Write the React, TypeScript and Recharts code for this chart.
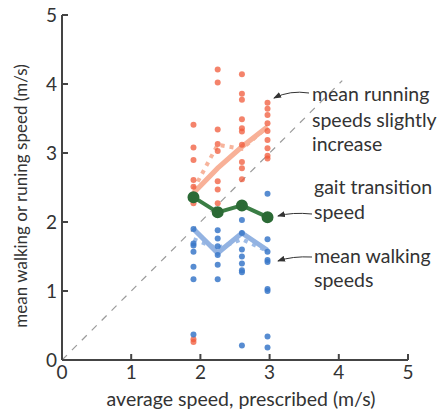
import React from 'react';
import {
  ComposedChart,
  Line,
  Scatter,
  XAxis,
  YAxis,
  ReferenceLine,
} from 'recharts';

// prescribed speeds (m/s)
const speeds = [1.9, 2.25, 2.6, 2.97];

// individual running speeds per prescribed speed
const runCol1 = [3.41, 3.08, 2.9, 2.61, 2.51, 2.27, 0.3, 0.26];
const runCol2 = [4.21, 4.02, 3.34, 3.13, 3.03, 2.59, 2.47, 2.27];
const runCol3 = [4.14, 3.86, 3.77, 3.49, 3.36, 3.31, 3.12, 2.87, 2.78, 2.62];
const runCol4 = [3.73, 3.64, 3.55, 3.43, 3.32, 3.19, 3.07, 2.96, 2.92];

// individual walking speeds per prescribed speed
const walkCol1 = [1.9, 1.69, 1.66, 1.57, 1.35, 1.17, 0.37];
const walkCol2 = [1.88, 1.76, 1.65, 1.52, 1.38, 1.17];
const walkCol3 = [2.03, 1.84, 1.6, 1.5, 1.4, 1.3, 1.27, 0.21];
const walkCol4 = [2.41, 1.75, 1.57, 1.45, 1.42, 1.03, 1.0, 0.34, 0.18];

// summary lines
const runMean = [2.42, 2.78, 3.09, 3.38];
const runAlt = [2.47, 3.12, 3.06, 3.38];
const walkMean = [1.9, 1.55, 1.84, 1.59];
const walkAlt = [1.75, 1.62, 1.75, 1.58];
const gaitTransition = [2.36, 2.14, 2.24, 2.07];

const axisTicks = [0, 1, 2, 3, 4, 5];
const diagonalEnd = 4.05;

const toPoints = (cols: number[][]) =>
  cols.flatMap((col, i) => col.map((y) => ({ x: speeds[i], y })));
const toLine = (vals: number[]) => vals.map((y, i) => ({ x: speeds[i], y }));

const runPoints = toPoints([runCol1, runCol2, runCol3, runCol4]);
const walkPoints = toPoints([walkCol1, walkCol2, walkCol3, walkCol4]);

const FONT = 'Lato, "Open Sans", sans-serif';
const TEXT = '#333';
const AXIS = '#444';

const XTick = ({ x, y, payload }: any) => (
  <g>
    <line x1={x} x2={x} y1={y} y2={y - 6} stroke={AXIS} strokeWidth={2} />
    <text x={x} y={y + 19} textAnchor="middle" fontSize={19} fill={TEXT} fontFamily={FONT}>
      {payload.value}
    </text>
  </g>
);

const YTick = ({ x, y, payload }: any) => (
  <g>
    <line x1={x} x2={x + 6} y1={y} y2={y} stroke={AXIS} strokeWidth={2} />
    <text x={x - 5} y={y + 7} textAnchor="end" fontSize={19} fill={TEXT} fontFamily={FONT}>
      {payload.value}
    </text>
  </g>
);

const dotShape = (fill: string, opacity: number) => (props: any) => (
  <circle cx={props.cx} cy={props.cy} r={3} fill={fill} fillOpacity={opacity} />
);

function Annotations() {
  const t = { fontSize: 19.5, fill: TEXT, fontFamily: FONT };
  return (
    <svg
      width={437}
      height={411}
      style={{ position: 'absolute', left: 0, top: 0, pointerEvents: 'none' }}
    >
      <defs>
        <marker id="ah" markerWidth="8" markerHeight="6" refX="7" refY="3" orient="auto">
          <path d="M0,0 L8,3 L0,6 z" fill={TEXT} />
        </marker>
      </defs>
      <text x={312} y={101} {...t}>mean running</text>
      <text x={312} y={127} {...t}>speeds slightly</text>
      <text x={312} y={151} {...t}>increase</text>
      <path d="M309,93 Q290,90 274,98" stroke={TEXT} fill="none" strokeWidth={1} markerEnd="url(#ah)" />

      <text x={314} y={194} {...t}>gait transition</text>
      <text x={314} y={219} {...t}>speed</text>
      <path d="M312,214 Q292,212 278,216" stroke={TEXT} fill="none" strokeWidth={1} markerEnd="url(#ah)" />

      <text x={314} y={263} {...t}>mean walking</text>
      <text x={314} y={287} {...t}>speeds</text>
      <path d="M312,257 Q292,256 278,261" stroke={TEXT} fill="none" strokeWidth={1} markerEnd="url(#ah)" />

      <text x={241} y={406} textAnchor="middle" {...t}>average speed, prescribed (m/s)</text>
      <text
        x={0}
        y={0}
        textAnchor="middle"
        transform="translate(27,196) rotate(-90)"
        {...t}
        fontSize={17}
      >
        mean walking or runing speed (m/s)
      </text>
    </svg>
  );
}

export default function App() {
  return (
    <div style={{ position: 'absolute', left: 0, top: 0, width: 437, height: 411, background: '#fff' }}>
      <ComposedChart
        width={437}
        height={411}
        margin={{ top: 15, right: 29, bottom: 0, left: 0 }}
      >
        <XAxis
          dataKey="x"
          type="number"
          domain={[0, 5]}
          ticks={axisTicks}
          tickSize={0}
          tickMargin={0}
          tickLine={false}
          height={51}
          axisLine={{ stroke: AXIS, strokeWidth: 2 }}
          tick={<XTick />}
          allowDataOverflow
        />
        <YAxis
          dataKey="y"
          type="number"
          domain={[0, 5]}
          ticks={axisTicks}
          tickSize={0}
          tickMargin={0}
          tickLine={false}
          width={62}
          axisLine={{ stroke: AXIS, strokeWidth: 2 }}
          tick={<YTick />}
          allowDataOverflow
        />
        <ReferenceLine
          segment={[{ x: 0, y: 0 }, { x: diagonalEnd, y: diagonalEnd }]}
          stroke="#9a9a9a"
          strokeWidth={1.2}
          strokeDasharray="7 7"
        />
        <Line data={toLine(runAlt)} dataKey="y" stroke="#f7b49c" strokeWidth={4} strokeDasharray="4 5" dot={false} isAnimationActive={false} />
        <Line data={toLine(runMean)} dataKey="y" stroke="#f8b198" strokeWidth={5} dot={false} isAnimationActive={false} />
        <Line data={toLine(walkAlt)} dataKey="y" stroke="#9dbbe6" strokeWidth={4} strokeDasharray="4 5" dot={false} isAnimationActive={false} />
        <Line data={toLine(walkMean)} dataKey="y" stroke="#93b3e2" strokeWidth={5} dot={false} isAnimationActive={false} />
        <Scatter data={runPoints} fill="#f05a3a" shape={dotShape('#f05a3a', 0.75)} isAnimationActive={false} />
        <Scatter data={walkPoints} fill="#3a78c9" shape={dotShape('#3a78c9', 0.85)} isAnimationActive={false} />
        <Line
          data={toLine(gaitTransition)}
          dataKey="y"
          stroke="#3a7d44"
          strokeWidth={4}
          dot={{ r: 4, fill: '#2b6a35', stroke: '#2b6a35' }}
          isAnimationActive={false}
        />
      </ComposedChart>
      <Annotations />
    </div>
  );
}
